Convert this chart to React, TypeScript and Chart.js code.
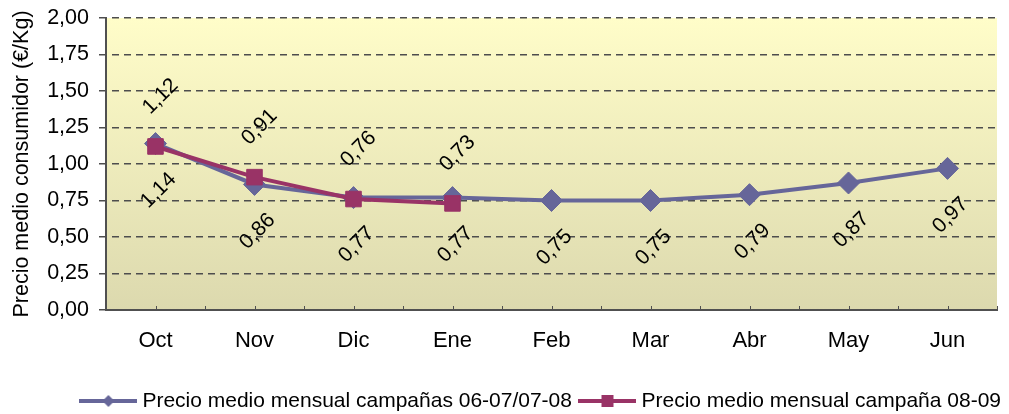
import React, { useEffect, useRef } from 'react';
import { Chart, registerables } from 'chart.js';

Chart.register(...registerables);

// ---- data ----
const categories = ['Oct', 'Nov', 'Dic', 'Ene', 'Feb', 'Mar', 'Abr', 'May', 'Jun'];
const precioCampanas0608 = [1.14, 0.86, 0.77, 0.77, 0.75, 0.75, 0.79, 0.87, 0.97];
const precioCampana0809 = [1.12, 0.91, 0.76, 0.73, null, null, null, null, null];
const seriesNames = [
  'Precio medio mensual campañas 06-07/07-08',
  'Precio medio mensual campaña 08-09',
];
const yAxisTitle = 'Precio medio consumidor (€/Kg)';
const yMin = 0;
const yMax = 2;
const yStep = 0.25;

const BLUE = '#666699';
const RED = '#993366';
const FONT = '"Liberation Sans", Arial, Helvetica, sans-serif';

const fmt = (v: number) => Number(v).toFixed(2).replace('.', ',');

function makeLegendMarker(color: string, shape: 'diamond' | 'square') {
  const c = document.createElement('canvas');
  c.width = 58;
  c.height = 16;
  const ctx = c.getContext('2d')!;
  ctx.strokeStyle = color;
  ctx.lineWidth = 4;
  ctx.beginPath();
  ctx.moveTo(0, 8);
  ctx.lineTo(58, 8);
  ctx.stroke();
  ctx.fillStyle = color;
  if (shape === 'diamond') {
    ctx.beginPath();
    ctx.moveTo(23, 8);
    ctx.lineTo(29, 2);
    ctx.lineTo(35, 8);
    ctx.lineTo(29, 14);
    ctx.closePath();
    ctx.fill();
  } else {
    ctx.fillRect(23, 2, 12, 12);
  }
  return c;
}

const plotBgPlugin = {
  id: 'plotBg',
  beforeDraw(chart: any) {
    const { ctx, chartArea: a } = chart;
    const g = ctx.createLinearGradient(0, a.top, 0, a.bottom);
    g.addColorStop(0, '#FFFDC9');
    g.addColorStop(1, '#DCD9AE');
    ctx.save();
    ctx.fillStyle = g;
    ctx.fillRect(a.left, a.top, a.right - a.left, a.bottom - a.top);
    ctx.restore();
  },
};

const innerTicksPlugin = {
  id: 'innerTicks',
  afterDraw(chart: any) {
    const { ctx, chartArea: a } = chart;
    const xs = chart.scales.x;
    const n = chart.data.labels.length;
    const half = (xs.getPixelForValue(1) - xs.getPixelForValue(0)) / 2;
    ctx.save();
    ctx.strokeStyle = '#505050';
    ctx.lineWidth = 1;
    const xsList: number[] = [];
    for (let i = 0; i < n; i++) {
      const c = xs.getPixelForValue(i);
      xsList.push(c - half, c);
    }
    xsList.push(xs.getPixelForValue(n - 1) + half);
    xsList.forEach((px) => {
      const x = Math.round(px) + 0.5;
      ctx.beginPath();
      ctx.moveTo(x, a.bottom);
      ctx.lineTo(x, a.bottom - 4);
      ctx.stroke();
    });
    ctx.restore();
  },
};

const valueLabelsPlugin = {
  id: 'valueLabels',
  afterDatasetsDraw(chart: any) {
    const { ctx } = chart;
    chart.data.datasets.forEach((ds: any, di: number) => {
      const meta = chart.getDatasetMeta(di);
      const below = ds.labelPlacement === 'below';
      const dx = below ? 3 : 5;
      const dy = below ? 47 : -50;
      meta.data.forEach((pt: any, i: number) => {
        const v = ds.data[i];
        if (v == null) return;
        ctx.save();
        ctx.translate(pt.x + dx, pt.y + dy);
        ctx.rotate(-Math.PI / 4);
        ctx.font = `21px ${FONT}`;
        ctx.fillStyle = '#000';
        ctx.textAlign = 'center';
        ctx.textBaseline = 'middle';
        ctx.fillText(fmt(v), 0, 0);
        ctx.restore();
      });
    });
  },
};

export default function App() {
  const canvasRef = useRef<HTMLCanvasElement | null>(null);

  useEffect(() => {
    const canvas = canvasRef.current;
    if (!canvas) return;
    Chart.defaults.font.family = FONT;
    Chart.defaults.color = '#000';
    const markers = [makeLegendMarker(BLUE, 'diamond'), makeLegendMarker(RED, 'square')];

    const chart = new Chart(canvas, {
      type: 'line',
      data: {
        labels: categories,
        datasets: [
          {
            label: seriesNames[0],
            data: precioCampanas0608,
            borderColor: BLUE,
            backgroundColor: BLUE,
            borderWidth: 4,
            pointStyle: 'rectRot',
            pointRadius: 11,
            pointBorderWidth: 1,
            pointBackgroundColor: BLUE,
            pointBorderColor: BLUE,
            tension: 0,
            order: 2,
            labelPlacement: 'below',
          } as any,
          {
            label: seriesNames[1],
            data: precioCampana0809,
            borderColor: RED,
            backgroundColor: RED,
            borderWidth: 4,
            pointStyle: 'rect',
            pointRadius: 11,
            pointBorderWidth: 1,
            pointBackgroundColor: RED,
            pointBorderColor: RED,
            tension: 0,
            spanGaps: false,
            order: 1,
            labelPlacement: 'above',
          } as any,
        ],
      },
      options: {
        responsive: false,
        animation: false,
        events: [],
        layout: { padding: { left: 0, right: -4, top: 18, bottom: -7.5 } },
        plugins: {
          tooltip: { enabled: false },
          legend: {
            position: 'bottom',
            align: 'end',
            labels: {
              usePointStyle: true,
              pointStyleWidth: 47,
              padding: 12,
              color: '#000',
              font: { size: 21, family: FONT },
              generateLabels: (ch: any) =>
                ch.data.datasets.map((ds: any, i: number) => ({
                  text: ds.label,
                  fillStyle: ds.borderColor,
                  strokeStyle: ds.borderColor,
                  lineWidth: 0,
                  pointStyle: markers[i],
                  hidden: false,
                  datasetIndex: i,
                  fontColor: '#000',
                })),
            },
          },
        },
        scales: {
          x: {
            type: 'category',
            offset: true,
            grid: { display: false, drawTicks: false },
            border: { display: true, color: '#505050', width: 2 },
            ticks: { padding: 18, color: '#000', font: { size: 22 }, maxRotation: 0 },
            afterFit: (s: any) => {
              s.height = 68.5;
              s.paddingLeft = 0;
              s.paddingRight = 0;
            },
          },
          y: {
            type: 'linear',
            position: 'left',
            min: yMin,
            max: yMax,
            ticks: {
              stepSize: yStep,
              padding: 10,
              color: '#000',
              font: { size: 21.5 },
              callback: (v: any) => fmt(v),
            },
            grid: {
              color: '#4d4d4d',
              lineWidth: 1.5,
              tickLength: 7,
              tickColor: '#4d4d4d',
            },
            border: { display: true, color: '#505050', width: 2, dash: [7, 5], dashOffset: 7 },
            title: {
              display: true,
              text: yAxisTitle,
              color: '#000',
              font: { size: 21.5 },
              padding: { top: 9, bottom: 0 },
            },
            afterFit: (s: any) => {
              s.width = 106;
              s.paddingTop = 0;
              s.paddingBottom = 0;
            },
          },
          y2: {
            type: 'linear',
            position: 'right',
            display: true,
            grid: { display: false, drawTicks: false },
            ticks: { display: false },
            border: { display: false },
            afterFit: (s: any) => {
              s.width = 14;
              s.paddingTop = 0;
              s.paddingBottom = 0;
            },
          },
        },
      } as any,
      plugins: [plotBgPlugin, innerTicksPlugin, valueLabelsPlugin],
    });

    return () => {
      chart.destroy();
    };
  }, []);

  return (
    <div style={{ position: 'fixed', left: 0, top: 0, width: 1009, height: 414, background: '#fff' }}>
      <canvas ref={canvasRef} width={1009} height={414} style={{ display: 'block', width: 1009, height: 414 }} />
    </div>
  );
}
